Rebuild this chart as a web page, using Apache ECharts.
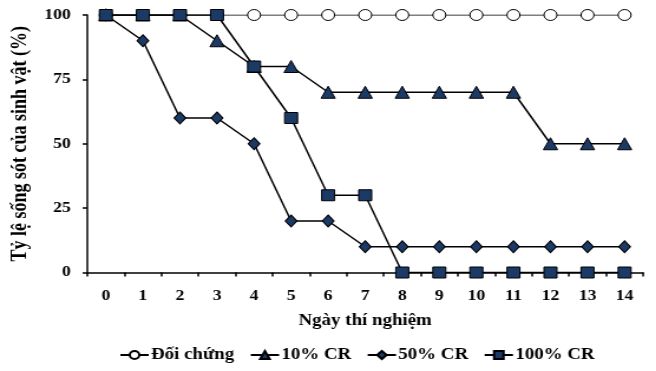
<!DOCTYPE html>
<html>
<head>
<meta charset="utf-8">
<script src="https://cdn.jsdelivr.net/npm/echarts@6/dist/echarts.min.js"></script>
<style>
html,body{margin:0;padding:0;background:#fff;overflow:hidden;}
#main{width:556px;height:371px;transform:scaleX(1.18);transform-origin:0 0;}
</style>
</head>
<body>
<div id="main"></div>
<script>
const days = ['0','1','2','3','4','5','6','7','8','9','10','11','12','13','14'];
const doiChung = [100,100,100,100,100,100,100,100,100,100,100,100,100,100,100];
const cr10 = [100,100,100,90,80,80,70,70,70,70,70,70,50,50,50];
const cr50 = [100,90,60,60,50,20,20,10,10,10,10,10,10,10,10];
const cr100 = [100,100,100,100,80,60,30,30,0,0,0,0,0,0,0];
const seriesNames = ['Đối chứng','10% CR','50% CR','100% CR'];
const yTicks = [0,25,50,75,100];

const FONT = "'Liberation Serif','Times New Roman',serif";
const NAVY = '#1b3a66';
const chart = echarts.init(document.getElementById('main'));
const markerStyle = {color: NAVY, borderColor: '#000', borderWidth: 1};
const lineStyle = {color: '#000', width: 1.5};
chart.setOption({
  animation: false,
  grid: {left: 70, right: 11, top: 15, bottom: 98.5},
  legend: {
    bottom: 3, left: 96,
    itemWidth: 24, itemHeight: 10, itemGap: 13,
    textStyle: {fontFamily: FONT, fontWeight: 'bold', fontSize: 16, color: '#000', padding: [0,0,0,-3]},
    data: seriesNames
  },
  xAxis: {
    type: 'category', data: days, boundaryGap: true,
    name: 'Ngày thí nghiệm', nameLocation: 'middle', nameGap: 40,
    nameTextStyle: {fontFamily: FONT, fontWeight: 'bold', fontSize: 16, color: '#000'},
    axisLine: {lineStyle: {color: '#000', width: 1.5}},
    axisTick: {show: true, length: 4, lineStyle: {color: '#000', width: 1.5}},
    axisLabel: {fontFamily: FONT, fontWeight: 'bold', fontSize: 15, color: '#000', margin: 16, interval: 0},
    splitLine: {show: false}
  },
  yAxis: {
    type: 'value', min: 0, max: 100, interval: 25,
    name: 'Tỷ lệ sống sót của sinh vật (%)', nameLocation: 'middle', nameGap: 48,
    nameTextStyle: {fontFamily: FONT, fontWeight: 'bold', fontSize: 18, color: '#000'},
    axisLine: {show: true, lineStyle: {color: '#000', width: 1.5}},
    axisTick: {show: true, length: 4, lineStyle: {color: '#000', width: 1.5}},
    axisLabel: {fontFamily: FONT, fontWeight: 'bold', fontSize: 15, color: '#000', margin: 14,
      formatter: v => yTicks.includes(v) ? String(v) : ''},
    splitLine: {show: false}
  },
  series: [
    {name: seriesNames[0], type: 'line', data: doiChung, symbol: 'circle', symbolSize: [11, 11],
     itemStyle: {color: '#fff', borderColor: '#000', borderWidth: 1}, lineStyle: {color: '#000', width: 1}},
    {name: seriesNames[1], type: 'line', data: cr10, symbol: 'triangle', symbolSize: [12, 12],
     itemStyle: markerStyle, lineStyle: lineStyle},
    {name: seriesNames[2], type: 'line', data: cr50, symbol: 'diamond', symbolSize: [10, 12],
     itemStyle: markerStyle, lineStyle: lineStyle},
    {name: seriesNames[3], type: 'line', data: cr100, symbol: 'rect', symbolSize: [11, 11],
     itemStyle: markerStyle, lineStyle: lineStyle}
  ]
});
</script>
</body>
</html>
